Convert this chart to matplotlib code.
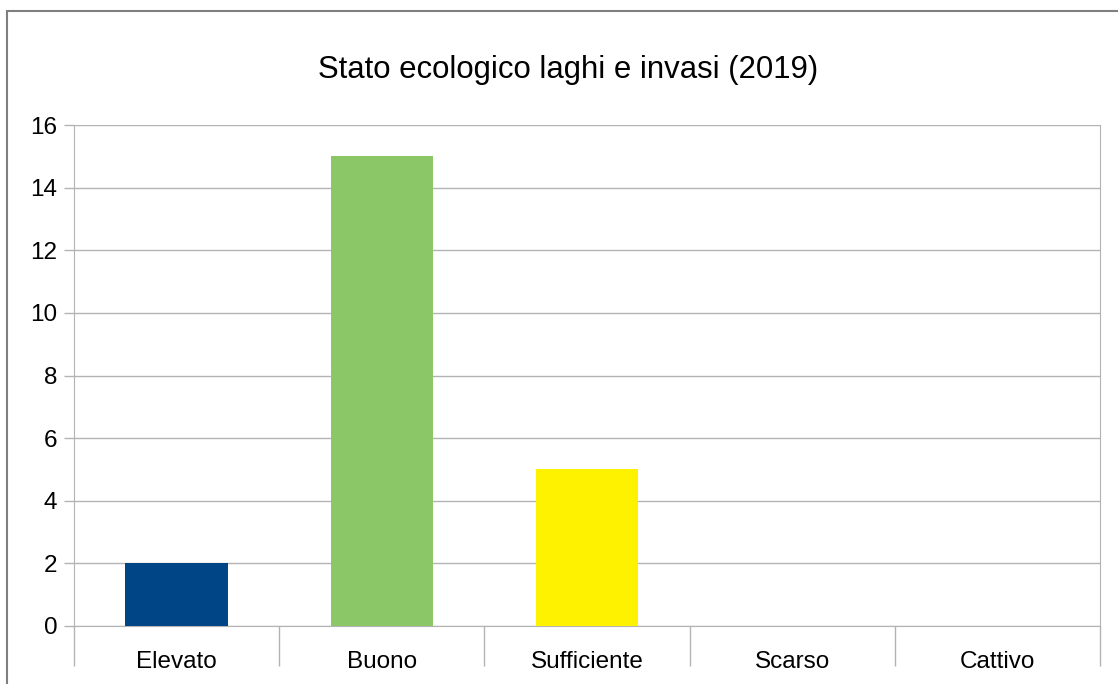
import matplotlib.pyplot as plt
import matplotlib.patches as patches
import numpy as np

plt.rcParams['font.family'] = ['Liberation Sans', 'DejaVu Sans']

categorie = ['Elevato', 'Buono', 'Sufficiente', 'Scarso', 'Cattivo']
valori = [2, 15, 5, 0, 0]
colori = ['#004586', '#8bc766', '#fff200', '#ff420e', '#7e0021']

W, H = 1118, 684
fig = plt.figure(figsize=(W / 100, H / 100), dpi=100)

# cornice del grafico (tagliata a destra e in basso)
fig.patches.append(patches.Rectangle((7 / W, -0.1), 1.2, 1 - 11 / H + 0.1,
                                     transform=fig.transFigure, fill=False,
                                     edgecolor='#7f7f7f', linewidth=1.5))

ax = fig.add_axes([74 / W, 58 / H, (1100 - 74) / W, (626 - 125) / H])
x = np.arange(len(categorie))
ax.bar(x, valori, width=0.5, color=colori, zorder=3)

ax.set_xlim(-0.5, len(categorie) - 0.5)
ax.set_ylim(0, 16)
ax.set_yticks(range(0, 17, 2))
ax.yaxis.grid(True, color='#b3b3b3', linewidth=1)
ax.set_axisbelow(True)

ax.set_xticks(x)
ax.set_xticklabels(categorie)
ax.set_xticks(np.arange(-0.5, len(categorie)), minor=True)
ax.tick_params(axis='x', which='major', length=0, pad=18, labelsize=17.5)
ax.tick_params(axis='x', which='minor', length=29, color='#b3b3b3', width=1)
ax.tick_params(axis='y', length=7, color='#b3b3b3', width=1, pad=5, labelsize=17.5)

for s in ['left', 'right', 'bottom']:
    ax.spines[s].set_color('#b3b3b3')
ax.spines['top'].set_visible(False)

fig.text(568 / W, 1 - 70 / H, 'Stato ecologico laghi e invasi (2019)',
         ha='center', va='center', fontsize=22.4)

fig.savefig('out.png', dpi=100)
